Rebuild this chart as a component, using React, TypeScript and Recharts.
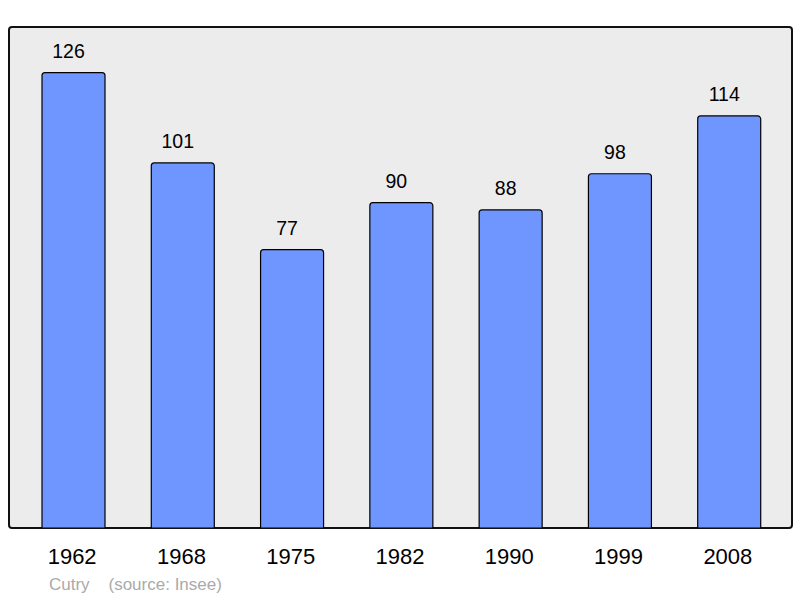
import React from "react";
import { BarChart, Bar, XAxis, YAxis, LabelList } from "recharts";

const years = ["1962", "1968", "1975", "1982", "1990", "1999", "2008"];
const population = [126, 101, 77, 90, 88, 98, 114];
const townName = "Cutry";
const sourceText = "(source: Insee)";

const data = years.map((y, i) => ({ year: y, value: population[i] }));
const FONT = "'Liberation Sans', Arial, sans-serif";

const renderValueLabel = (props: any) => {
  const { x, y, width, value } = props;
  return (
    <text
      x={Number(x) + Number(width) / 2 - 5}
      y={Number(y) - 15}
      textAnchor="middle"
      fill="#000"
      fontSize={19.5}
      fontFamily={FONT}
    >
      {value}
    </text>
  );
};

export default function App() {
  return (
    <div style={{ position: "absolute", left: 0, top: 0, width: 800, height: 598, background: "#fff", fontFamily: FONT }}>
      <div
        style={{
          position: "absolute",
          left: 7.5,
          top: 26,
          width: 785,
          height: 503,
          boxSizing: "border-box",
          border: "2px solid #111",
          borderRadius: 4,
          background: "#ececec",
        }}
      />
      <div style={{ position: "absolute", left: 0, top: 0 }}>
        <BarChart
          width={800}
          height={598}
          data={data}
          margin={{ top: 27, left: 9, right: 9, bottom: 40 }}
          barSize={63}
        >
          <YAxis hide domain={[0, 138.6]} allowDataOverflow />
          <XAxis
            dataKey="year"
            height={30}
            axisLine={false}
            tickLine={false}
            tickSize={0}
            tickMargin={20}
            padding={{ left: 10, right: 7 }}
            interval={0}
            tick={{ fill: "#000", fontSize: 22, fontFamily: FONT, dx: -1.5 }}
          />
          <Bar
            dataKey="value"
            fill="#6f96ff"
            stroke="#000"
            strokeWidth={1.2}
            radius={[3, 3, 0, 0]}
            isAnimationActive={false}
          >
            <LabelList dataKey="value" content={renderValueLabel} />
          </Bar>
        </BarChart>
      </div>
      <div
        style={{
          position: "absolute",
          left: 49,
          top: 575,
          fontSize: 17,
          color: "#aaa",
          whiteSpace: "pre",
          fontFamily: FONT,
        }}
      >
        {townName + "    " + sourceText}
      </div>
    </div>
  );
}
